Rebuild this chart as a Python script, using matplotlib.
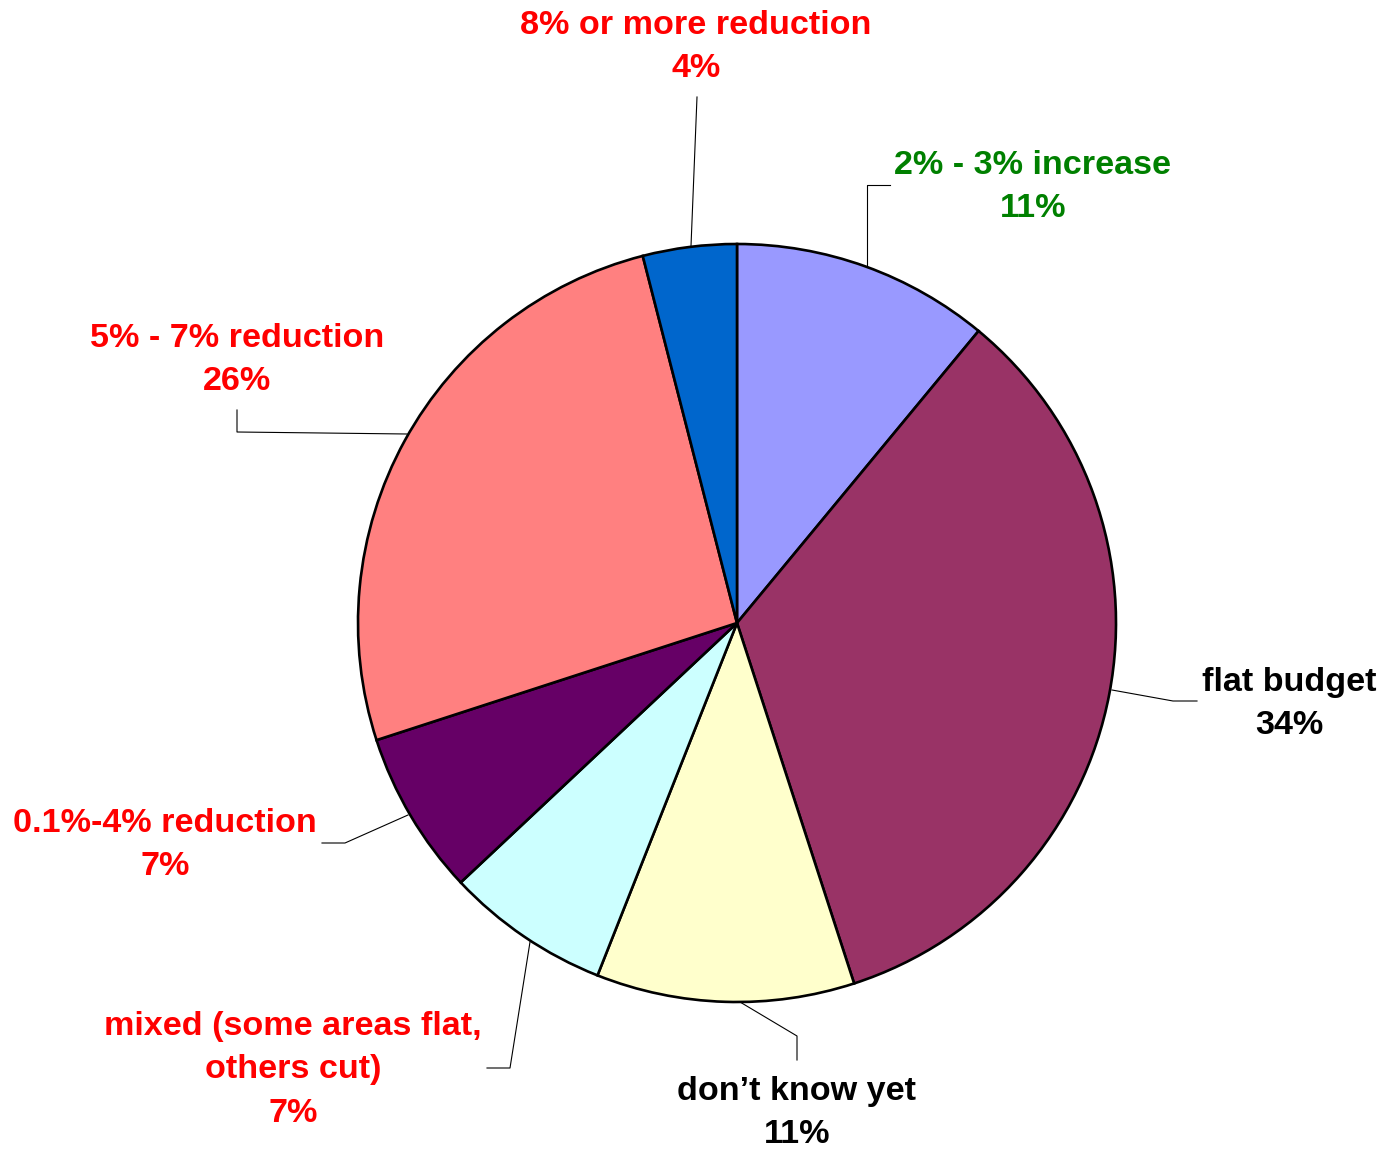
import matplotlib
matplotlib.use("Agg")
import matplotlib.pyplot as plt

categories = ["2% - 3% increase", "flat budget", "don\u2019t know yet",
              "mixed (some areas flat,\nothers cut)", "0.1%-4% reduction",
              "5% - 7% reduction", "8% or more reduction"]
values = [11, 34, 11, 7, 7, 26, 4]
slice_colors = ["#9999FF", "#993366", "#FFFFCC", "#CCFFFF", "#660066", "#FF8080", "#0066CC"]
label_colors = ["#008000", "black", "black", "red", "red", "red", "red"]

W, H = 1387, 1151
CX, CY, R = 737, 623, 379

def px(x, y):
    return ((x - CX) / R, (CY - y) / R)

fig = plt.figure(figsize=(W / 100, H / 100), dpi=100)
ax = fig.add_axes([0, 0, 1, 1])
ax.pie(values, colors=slice_colors, startangle=90, counterclock=False, radius=1,
       wedgeprops=dict(edgecolor="black", linewidth=1.9))
ax.set_xlim(-CX / R, (W - CX) / R)
ax.set_ylim(-(H - CY) / R, CY / R)
ax.set_aspect("equal")
ax.axis("off")

# label block centres (pixel coordinates)
label_pos = [(1033, 187), (1289, 704), (797, 1113), (293, 1070),
             (165, 845), (237, 360), (696, 47)]
# leader lines (pixel coordinates)
leaders = [
    [(867, 267), (867, 185), (890, 185)],
    [(1112, 690), (1173, 701), (1197, 701)],
    [(740, 1002), (797, 1036), (797, 1060)],
    [(530, 942), (510, 1068), (487, 1068)],
    [(408, 815), (345, 843), (322, 843)],
    [(407, 434), (237, 432), (237, 410)],
    [(691, 246), (697, 97)],
]

for cat, v, col, (lx, ly), pts in zip(categories, values, label_colors, label_pos, leaders):
    x, y = px(lx, ly)
    ax.text(x, y, f"{cat}\n{v}%", ha="center", va="center", color=col,
            fontsize=24.6, fontweight="bold", family=["Liberation Sans", "DejaVu Sans"],
            linespacing=1.52)
    xs = [px(a, b)[0] for a, b in pts]
    ys = [px(a, b)[1] for a, b in pts]
    ax.plot(xs, ys, color="black", linewidth=0.8)

fig.savefig("out.png", dpi=100)
